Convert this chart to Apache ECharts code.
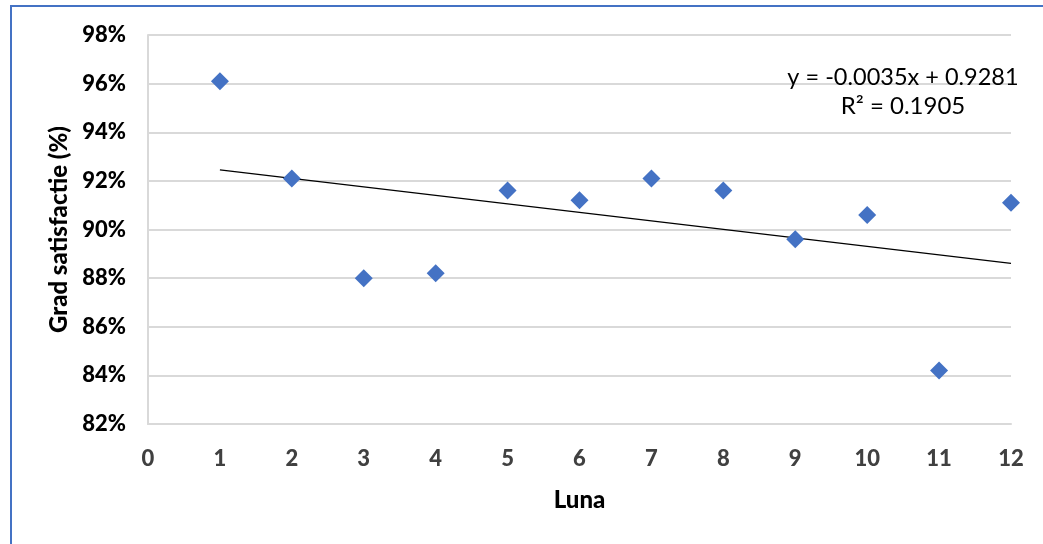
<!DOCTYPE html>
<html>
<head>
<meta charset="utf-8">
<script src="https://cdn.jsdelivr.net/npm/echarts@6/dist/echarts.min.js"></script>
<style>
html,body{margin:0;padding:0;background:#fff;}
#c{width:1043px;height:544px;}
</style>
</head>
<body>
<div id="c"></div>
<script>
const months = [1,2,3,4,5,6,7,8,9,10,11,12];
const satisfaction = [96.1,92.1,88.0,88.2,91.6,91.2,92.1,91.6,89.6,90.6,84.2,91.1];
const trendLabel = 'y = -0.0035x + 0.9281';
const r2Label = 'R² = 0.1905';
const xTicks = {min:0, max:12, interval:1};
const yTicks = {min:82, max:98, interval:2};

// least-squares trendline from the data
const n = months.length;
const mx = months.reduce((a,b)=>a+b,0)/n;
const my = satisfaction.reduce((a,b)=>a+b,0)/n;
let sxy=0, sxx=0;
for(let i=0;i<n;i++){sxy+=(months[i]-mx)*(satisfaction[i]-my);sxx+=(months[i]-mx)**2;}
const slope = sxy/sxx, icpt = my - slope*mx;
const x0 = months[0], x1 = months[n-1];
const trend = [[x0, icpt+slope*x0],[x1, icpt+slope*x1]];

const chart = echarts.init(document.getElementById('c'));
const FONT = 'Lato';
chart.setOption({
  animation:false,
  backgroundColor:'#fff',
  grid:{left:148, top:35, right:32, bottom:120, containLabel:false},
  xAxis:{
    type:'value', min:xTicks.min, max:xTicks.max, interval:xTicks.interval,
    name:'Luna', nameLocation:'middle', nameGap:64,
    nameTextStyle:{fontFamily:FONT, fontWeight:900, fontSize:24, color:'#000'},
    axisLine:{show:true, lineStyle:{color:'#d9d9d9', width:2}},
    axisTick:{show:false},
    axisLabel:{fontFamily:FONT, fontWeight:900, fontSize:22, color:'#404040', margin:24},
    splitLine:{show:false}
  },
  yAxis:{
    type:'value', min:yTicks.min, max:yTicks.max, interval:yTicks.interval,
    name:'Grad satisfactie (%)', nameLocation:'middle', nameGap:75, nameRotate:90,
    nameTextStyle:{fontFamily:FONT, fontWeight:900, fontSize:24, color:'#000'},
    axisLine:{show:true, lineStyle:{color:'#d9d9d9', width:2}},
    axisTick:{show:false},
    axisLabel:{fontFamily:FONT, fontWeight:900, fontSize:22, color:'#000', margin:22,
      formatter:v=>Math.round(v)+'%'},
    splitLine:{show:true, lineStyle:{color:'#d9d9d9', width:2}}
  },
  graphic:[
    {type:'rect', silent:true, z:-1, shape:{x:11, y:6, width:1200, height:700},
     style:{fill:'none', stroke:'#4472C4', lineWidth:2}},
    {type:'text', x:903, y:77, z:10,
     style:{text:trendLabel, fontFamily:FONT, fontSize:23.5, fill:'#000', align:'center', verticalAlign:'middle'}},
    {type:'text', x:903, y:106, z:10,
     style:{text:r2Label, fontFamily:FONT, fontSize:24, fill:'#000', align:'center', verticalAlign:'middle'}}
  ],
  series:[
    {type:'line', data:trend, symbol:'none', lineStyle:{color:'#000', width:1.3}, z:3, silent:true},
    {type:'scatter', data:months.map((m,i)=>[m,satisfaction[i]]), symbol:'diamond', symbolSize:[18,18],
     itemStyle:{color:'#4472C4', opacity:1}, z:4}
  ]
});
</script>
</body>
</html>
